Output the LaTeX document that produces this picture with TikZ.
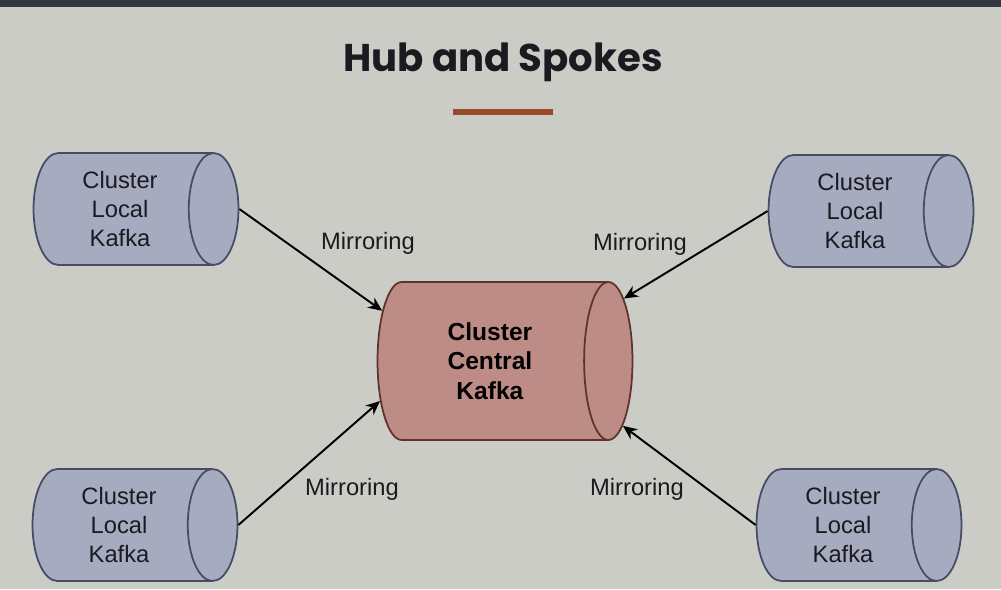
\documentclass[tikz,border=0pt]{standalone}
\usepackage{fontspec}
\setmainfont{Liberation Sans}
\newfontfamily\titlefont{Poppins}
\usetikzlibrary{arrows.meta, positioning, shapes.geometric}
\definecolor{bgcol}{RGB}{204,204,199}
\definecolor{topbar}{RGB}{52,56,66}
\definecolor{localfill}{RGB}{166,171,191}
\definecolor{localdraw}{RGB}{68,76,104}
\definecolor{hubfill}{RGB}{190,140,134}
\definecolor{hubdraw}{RGB}{96,50,44}
\definecolor{accent}{RGB}{150,74,44}
\definecolor{inktext}{RGB}{26,26,32}

\begin{document}
\begin{tikzpicture}[x=0.02cm, y=-0.02cm,
    local cluster/.style={cylinder, shape border rotate=0, aspect=0.63,
      draw=localdraw, fill=localfill, line width=1pt,
      minimum height=4.1cm, minimum width=2.24cm, inner sep=1pt,
      align=center, text=inktext, font=\fontsize{13.5}{16.5}\selectfont},
    hub cluster/.style={cylinder, shape border rotate=0, aspect=0.6,
      draw=hubdraw, fill=hubfill, line width=1pt,
      minimum height=5.1cm, minimum width=3.16cm, inner sep=1pt,
      align=center, text=black, font=\fontsize{14}{16.8}\selectfont\bfseries},
    mirror/.style={-{Stealth[length=8pt, width=7pt]}, line width=1.1pt, draw=black},
    mirror label/.style={text=inktext, font=\fontsize{13.5}{16}\selectfont},
  ]
  \useasboundingbox (0,0) rectangle (1001,589);

  % screen and title
  \fill [bgcol] (0,0) rectangle (1001,589);
  \fill [topbar] (0,0) rectangle (1001,7);
  \node [text=inktext, font=\titlefont\fontsize{22}{26}\selectfont\bfseries] (title) at (503,62) {Hub and Spokes};
  \draw [accent, line width=3pt] (453,112) -- (553,112);

  % central cluster
  \node [hub cluster, anchor=shape center] (hub) at (505,361) {Cluster\\Central\\Kafka};

  % local clusters and their mirroring arrows
  \foreach \m/\x/\y/\side/\a in {nw/136/209/east/155, ne/871/211/west/25, sw/135/525/east/200, se/859/525/west/334}
  {
    \node [local cluster, anchor=shape center] (local-\m) at (\x,\y) {Cluster\\Local\\Kafka};
    \draw [mirror] (local-\m.\side) -- (hub.\a);
  }

  \foreach \m/\x/\y in {nw/368/243, ne/640/244, sw/352/489, se/637/489}
  \node [mirror label] (label-\m) at (\x,\y) {Mirroring};

\end{tikzpicture}
\end{document}
